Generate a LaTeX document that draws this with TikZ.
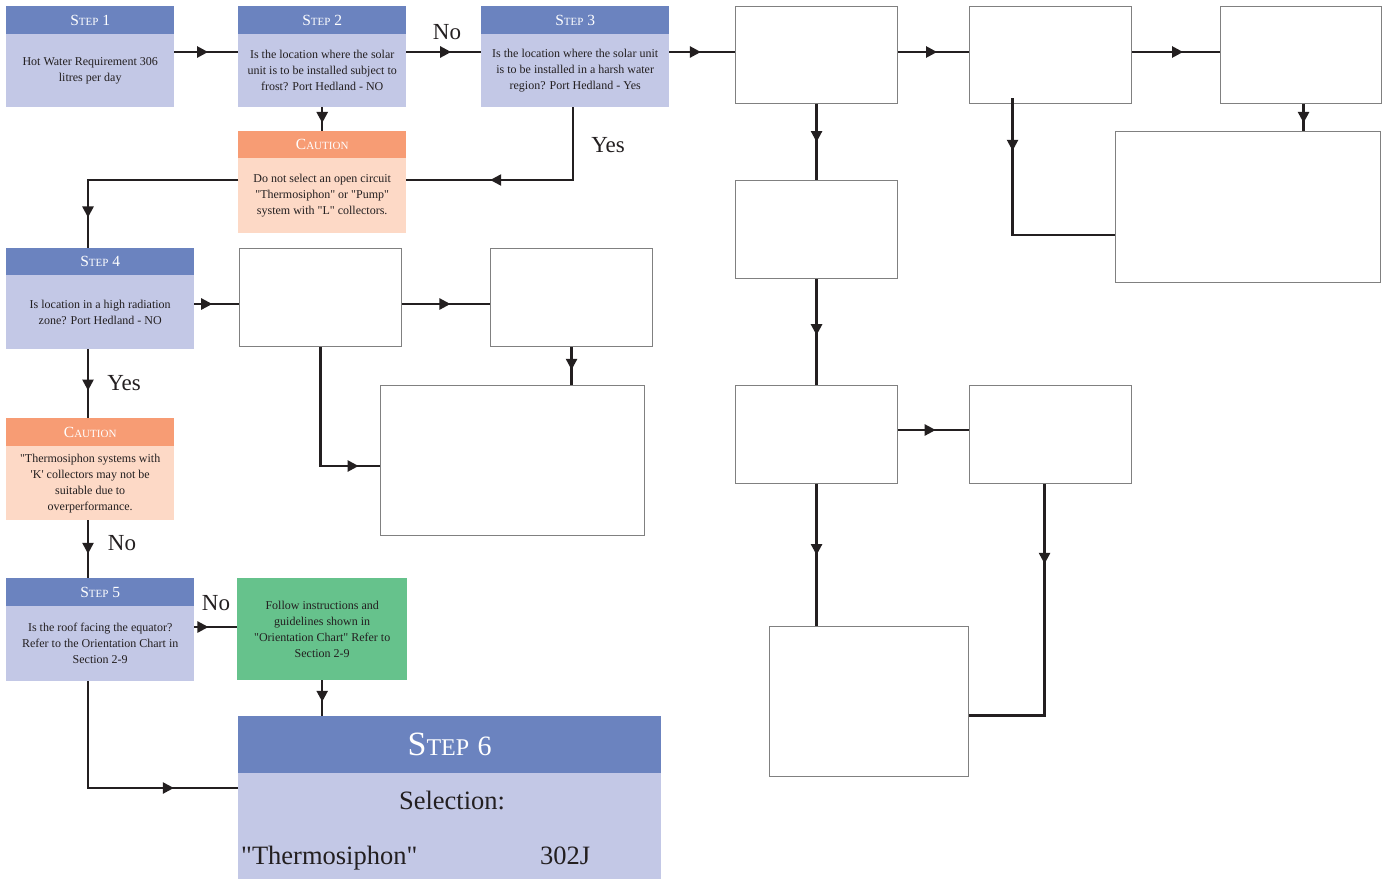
\documentclass[tikz,border=0pt]{standalone}
\usepackage{fontspec}
\setmainfont{Liberation Serif}[Ligatures=TeXOff]
\usetikzlibrary{arrows.meta,decorations.markings,calc}

\definecolor{hdrblue}{HTML}{6B83BF}
\definecolor{bodyblue}{HTML}{C3C8E6}
\definecolor{cauthead}{HTML}{F79C74}
\definecolor{cautfill}{HTML}{FDD9C6}
\definecolor{okgreen}{HTML}{66C28C}
\definecolor{ink}{HTML}{231F20}
\definecolor{boxgray}{HTML}{808080}

% fake small caps for the step / caution headers
\newcommand\hdrtext[2]{#1{\fontsize{11}{12}\selectfont #2}}

\tikzset{
  x=1pt, y=-1pt,
  hdr/.style={fill=hdrblue, text=white, anchor=north west, inner sep=0pt,
    font=\fontsize{15.5}{18}\selectfont},
  body/.style={fill=bodyblue, text=ink, anchor=north west, inner sep=0pt,
    align=center, font=\fontsize{12}{16}\selectfont},
  cauthdr/.style={hdr, fill=cauthead},
  cautbody/.style={body, fill=cautfill},
  greenbox/.style={body, fill=okgreen},
  blank/.style={draw=boxgray, line width=1.1pt, fill=white, anchor=north west, inner sep=0pt},
  flow/.style={draw=ink, line width=2.4pt},
  midarrow/.style={postaction={decorate}, decoration={markings,
    mark=at position #1 with {\arrow{Triangle[length=11pt,width=11pt]}}}},
  midarrow/.default=0.55,
  lbl/.style={font=\fontsize{23}{26}\selectfont, text=ink, inner sep=0pt},
}

\begin{document}
\begin{tikzpicture}
\fill[white] (0,0) rectangle (1383,879);
\useasboundingbox (0,0) rectangle (1383,879);

% levels used by the connectors
\coordinate (row1) at (0,52);
\coordinate (c1row) at (0,180);
\coordinate (row4) at (0,304);
\coordinate (hrow) at (0,466);
\coordinate (row5) at (0,627);
\coordinate (row6) at (0,788);
\coordinate (drow) at (0,235);
\coordinate (irow) at (0,430);
\coordinate (spine) at (88,0);

% ---- step and caution boxes ----
\node[hdr, minimum width=168, minimum height=28] (S1h) at (6,6) {\hdrtext{S}{TEP} 1};
\node[body, minimum width=168, minimum height=73] (S1) at (6,34) {Hot Water Requirement 306\\litres per day};

\node[hdr, minimum width=168, minimum height=28] (S2h) at (238,6) {\hdrtext{S}{TEP} 2};
\node[body, minimum width=168, minimum height=73] (S2) at (238,34) {Is the location where the solar\\unit is to be installed subject to\\frost? Port Hedland - NO};

\node[hdr, minimum width=188, minimum height=28] (S3h) at (481,6) {\hdrtext{S}{TEP} 3};
\node[body, minimum width=188, minimum height=73] (S3) at (481,34) {Is the location where the solar unit\\is to be installed in a harsh water\\region? Port Hedland - Yes};

\node[cauthdr, minimum width=168, minimum height=27] (C1h) at (238,131) {\hdrtext{C}{AUTION}};
\node[cautbody, minimum width=168, minimum height=75] (C1) at (238,158) {Do not select an open circuit\\"Thermosiphon" or "Pump"\\system with "L" collectors.};

\node[hdr, minimum width=188, minimum height=27] (S4h) at (6,248) {\hdrtext{S}{TEP} 4};
\node[body, minimum width=188, minimum height=74] (S4) at (6,275) {Is location in a high radiation\\zone? Port Hedland - NO};

\node[cauthdr, minimum width=168, minimum height=28] (C2h) at (6,418) {\hdrtext{C}{AUTION}};
\node[cautbody, minimum width=168, minimum height=74] (C2) at (6,446) {"Thermosiphon systems with\\'K' collectors may not be\\suitable due to\\overperformance.};

\node[hdr, minimum width=188, minimum height=28] (S5h) at (6,578) {\hdrtext{S}{TEP} 5};
\node[body, minimum width=188, minimum height=75] (S5) at (6,606) {Is the roof facing the equator?\\Refer to the Orientation Chart in\\Section 2-9};

\node[greenbox, minimum width=170, minimum height=102] (G) at (237,578) {Follow instructions and\\guidelines shown in\\"Orientation Chart" Refer to\\Section 2-9};

\node[hdr, minimum width=423, minimum height=57, font=\fontsize{34}{36}\selectfont] (S6h) at (238,716)
  {S{\fontsize{24}{26}\selectfont TEP} {\fontsize{28}{30}\selectfont 6}};
\node[body, minimum width=423, minimum height=106] (S6) at (238,773) {};
\node[font=\fontsize{26.5}{30}\selectfont, text=ink, inner sep=0pt, anchor=base] (sel) at (452,809) {Selection:};
\node[font=\fontsize{26.5}{30}\selectfont, text=ink, inner sep=0pt, anchor=base west] (sys) at (241,864) {"Thermosiphon"};
\node[font=\fontsize{26.5}{30}\selectfont, text=ink, inner sep=0pt, anchor=base west] (mdl) at (540,864) {302J};

% ---- empty boxes ----
\node[blank, minimum width=162, minimum height=97] (A) at (735,6) {};
\node[blank, minimum width=162, minimum height=97] (B) at (969,6) {};
\node[blank, minimum width=161, minimum height=97] (C) at (1220,6) {};
\node[blank, minimum width=265, minimum height=151] (D) at (1115,131) {};
\node[blank, minimum width=162, minimum height=98] (E) at (735,180) {};
\node[blank, minimum width=162, minimum height=98] (F) at (239,248) {};
\node[blank, minimum width=162, minimum height=98] (Gb) at (490,248) {};
\node[blank, minimum width=264, minimum height=150] (H) at (380,385) {};
\node[blank, minimum width=162, minimum height=98] (I) at (735,385) {};
\node[blank, minimum width=162, minimum height=98] (J) at (969,385) {};
\node[blank, minimum width=199, minimum height=150] (K) at (769,626) {};

% ---- connectors ----
\draw[flow, midarrow=0.53] (S1.east |- row1) -- (S2.west |- row1);
\draw[flow, midarrow=0.6] (S2.east |- row1) -- (S3.west |- row1);
\draw[flow, midarrow=0.66] (S2.south) -- (C1h.north);
\draw[flow, midarrow=0.48] (S3.east |- row1) -- (A.west |- row1);
\draw[flow, midarrow=0.65] ([xshift=-2pt]S3.south) |- (C1.east |- c1row);
\draw[flow, midarrow=0.86] (C1.west |- c1row) -| (spine |- S4h.north);
\draw[flow, midarrow=0.4] (S4.east |- row4) -- (F.west |- row4);
\draw[flow, midarrow=0.55] (F.east |- row4) -- (Gb.west |- row4);
\draw[flow, midarrow=0.6] (Gb.south) -- (Gb.south |- H.north);
\draw[flow, midarrow=0.88] (F.south) |- (H.west |- hrow);
\draw[flow, midarrow=0.6] (spine |- S4.south) -- (spine |- C2h.north);
\draw[flow, midarrow=0.58] (spine |- C2.south) -- (spine |- S5h.north);
\draw[flow, midarrow=0.33] (S5.east |- row5) -- (G.west |- row5);
\draw[flow, midarrow=0.6] (G.south) -- (G.south |- S6h.north);
\draw[flow, midarrow=0.75] (spine |- S5.south) |- (S6.west |- row6);
\draw[flow, midarrow=0.55] (A.east |- row1) -- (B.west |- row1);
\draw[flow, midarrow=0.58] (B.east |- row1) -- (C.west |- row1);
\draw[flow, midarrow=0.5] (A.south) -- (E.north);
\draw[flow, midarrow=0.22] ([xshift=-38pt,yshift=6pt]B.south) |- (D.west |- drow);
\draw[flow, midarrow=0.7] ([xshift=2.5pt]C.south) -- ([xshift=2.5pt]C.south |- D.north);
\draw[flow, midarrow=0.53] (E.south) -- (I.north);
\draw[flow, midarrow=0.53] (I.east |- irow) -- (J.west |- irow);
\draw[flow, midarrow=0.5] (I.south) -- (I.south |- K.north);
\draw[flow, midarrow=0.26] ([xshift=-6pt]J.south) |- ([yshift=-14pt]K.east);

% ---- branch labels ----
\node[lbl] (no1) at (447,32) {No};
\node[lbl] (yes1) at (608,145) {Yes};
\node[lbl] (yes2) at (124,383) {Yes};
\node[lbl] (no2) at (122,543) {No};
\node[lbl] (no3) at (216,603) {No};
\end{tikzpicture}
\end{document}
